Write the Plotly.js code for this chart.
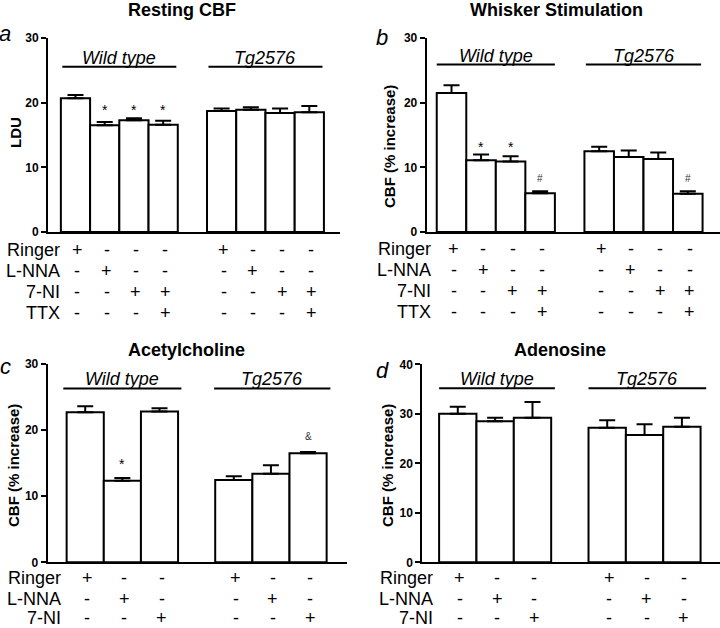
<!DOCTYPE html>
<html>
<head>
<meta charset="utf-8">
<script src="https://cdn.plot.ly/plotly-3.0.1.min.js"></script>
<style>html,body{margin:0;padding:0;background:#fff}#chart{width:720px;height:628px}</style>
</head>
<body>
<div id="chart"></div>
<script>
// ---- data ----
const posFour = [0, 1, 2, 3, 5, 6, 7, 8];
const posThree = [0, 1, 2, 4, 5, 6];

const restingMean = [20.7, 16.5, 17.3, 16.6, 18.7, 18.9, 18.4, 18.5];
const restingErr  = [0.5, 0.5, 0.3, 0.6, 0.4, 0.4, 0.7, 1.0];

const whiskerMean = [21.5, 11.1, 10.9, 6.0, 12.5, 11.6, 11.3, 5.9];
const whiskerErr  = [1.2, 0.9, 0.8, 0.3, 0.7, 1.0, 1.0, 0.4];

const achMean = [22.7, 12.35, 22.8, 12.45, 13.4, 16.5];
const achErr  = [0.9, 0.4, 0.5, 0.55, 1.3, 0.2];

const adoMean = [30.0, 28.5, 29.2, 27.2, 25.7, 27.4];
const adoErr  = [1.4, 0.7, 3.2, 1.5, 2.2, 1.8];

const rowsFour = ['Ringer', 'L-NNA', '7-NI', 'TTX'];
const tableFour = [
  ['+', '-', '-', '-', '+', '-', '-', '-'],
  ['-', '+', '-', '-', '-', '+', '-', '-'],
  ['-', '-', '+', '+', '-', '-', '+', '+'],
  ['-', '-', '-', '+', '-', '-', '-', '+']
];
const rowsThree = ['Ringer', 'L-NNA', '7-NI'];
const tableThree = [
  ['+', '-', '-', '+', '-', '-'],
  ['-', '+', '-', '-', '+', '-'],
  ['-', '-', '+', '-', '-', '+']
];
const groupNames = ['Wild type', 'Tg2576'];
const panelTitles = ['Resting CBF', 'Whisker Stimulation', 'Acetylcholine', 'Adenosine'];
const panelLetters = ['a', 'b', 'c', 'd'];
const yTitles = ['LDU', 'CBF (% increase)', 'CBF (% increase)', 'CBF (% increase)'];

// significance marks: [panel, x, y, text]
const marks = [
  [0, 1, 18.9, '*'], [0, 2, 18.9, '*'], [0, 3, 18.9, '*'],
  [1, 1, 13.2, '*'], [1, 2, 13.2, '*'], [1, 3, 8.3, '#'], [1, 8, 8.3, '#'],
  [2, 1, 14.8, '*'], [2, 6, 19.0, '&']
];

// ---- layout geometry (pixels) ----
const W = 720, H = 628;
const FONT = 'Liberation Sans, Arial, sans-serif';
const px = x => x / W;
const py = y => 1 - y / H;

const panels = [
  {x0: 48, x1: 340, yb: 232, yt: 38, xr: [-0.94, 9.05], yr: [0, 30], dt: 10,
   pos: posFour, mean: restingMean, err: restingErr, rows: rowsFour, table: tableFour,
   rowY: [250, 271, 292, 313], labelX: 62,
   groupX: [[-0.45, 3.45], [4.55, 8.45]], groupTextY: 26.85, groupLineY: 25.55,
   titleX: 182, titleY: 10, letterX: 5, letterY: 34, yTitleX: 15, yTitleY: 133},
  {x0: 426.7, x1: 720, yb: 232, yt: 38, xr: [-0.84, 9.09], yr: [0, 30], dt: 10,
   pos: posFour, mean: whiskerMean, err: whiskerErr, rows: rowsFour, table: tableFour,
   rowY: [249, 270, 291, 312], labelX: 433,
   groupX: [[-0.5, 3.5], [4.55, 8.45]], groupTextY: 27.25, groupLineY: 25.9,
   titleX: 556, titleY: 10, letterX: 382, letterY: 37, yTitleX: 389, yTitleY: 147},
  {x0: 47.7, x1: 346.7, yb: 562.3, yt: 364, xr: [-1.01, 7.04], yr: [0, 30], dt: 10,
   pos: posThree, mean: achMean, err: achErr, rows: rowsThree, table: tableThree,
   rowY: [578, 599, 617.5], labelX: 63,
   groupX: [[-0.59, 2.59], [3.47, 6.6]], groupTextY: 27.7, groupLineY: 26.3,
   titleX: 186, titleY: 350, letterX: 5, letterY: 366, yTitleX: 14, yTitleY: 466},
  {x0: 422.3, x1: 720, yb: 562.3, yt: 364.3, xr: [-0.95, 7.02], yr: [0, 40], dt: 10,
   pos: posThree, mean: adoMean, err: adoErr, rows: rowsThree, table: tableThree,
   rowY: [578, 599, 617.5], labelX: 435,
   groupX: [[-0.5, 2.6], [3.5, 6.65]], groupTextY: 37.0, groupLineY: 35.15,
   titleX: 560, titleY: 350, letterX: 382, letterY: 370, yTitleX: 388, yTitleY: 466}
];

const traces = [];
const annotations = [];
const shapes = [];
const layout = {
  width: W, height: H,
  margin: {l: 0, r: 0, t: 0, b: 0},
  paper_bgcolor: '#fff', plot_bgcolor: 'rgba(0,0,0,0)',
  showlegend: false, bargap: 0,
  font: {family: FONT, color: '#000'}
};

panels.forEach((p, i) => {
  const sfx = i === 0 ? '' : String(i + 1);
  const xa = 'x' + sfx, ya = 'y' + sfx;
  traces.push({
    type: 'bar', x: p.pos, y: p.mean, width: 1,
    xaxis: xa, yaxis: ya,
    marker: {color: '#fff', line: {color: '#000', width: 2}},
    error_y: {type: 'data', array: p.err, arrayminus: p.err.map(() => 0), symmetric: false,
              color: '#000', thickness: 2, width: 8},
    hoverinfo: 'skip'
  });
  layout['xaxis' + sfx] = {
    domain: [px(p.x0), px(p.x1)], range: p.xr, anchor: ya,
    showline: true, linecolor: '#000', linewidth: 2,
    showgrid: false, zeroline: false, showticklabels: false, ticks: '', fixedrange: true
  };
  const tv = [];
  for (let v = p.yr[0]; v <= p.yr[1] + 1e-9; v += p.dt) tv.push(v);
  layout['yaxis' + sfx] = {
    domain: [py(p.yb), py(p.yt)], range: p.yr, anchor: xa,
    showline: true, linecolor: '#000', linewidth: 2,
    showgrid: false, zeroline: false,
    ticks: 'outside', ticklen: 5, tickwidth: 2, tickcolor: '#000',
    tickvals: tv, ticktext: tv.map(String),
    tickfont: {family: FONT, size: 12, color: '#000', weight: 'bold'},
    ticklabelstandoff: 0, fixedrange: true
  };
  annotations.push({xref: 'paper', yref: 'paper', x: px(p.titleX), y: py(p.titleY),
    text: '<b>' + panelTitles[i] + '</b>', showarrow: false, xanchor: 'center', yanchor: 'middle',
    font: {family: FONT, size: 18, color: '#000'}});
  annotations.push({xref: 'paper', yref: 'paper', x: px(p.letterX), y: py(p.letterY),
    text: '<i>' + panelLetters[i] + '</i>', showarrow: false, xanchor: 'center', yanchor: 'middle',
    font: {family: FONT, size: 22, color: '#000'}});
  annotations.push({xref: 'paper', yref: 'paper', x: px(p.yTitleX), y: py(p.yTitleY),
    text: '<b>' + yTitles[i] + '</b>', showarrow: false, textangle: -90,
    xanchor: 'center', yanchor: 'middle',
    font: {family: FONT, size: 15, color: '#000'}});
  p.groupX.forEach((g, gi) => {
    annotations.push({xref: xa, yref: ya, x: (g[0] + g[1]) / 2, y: p.groupTextY,
      text: '<i>' + groupNames[gi] + '</i>', showarrow: false, xanchor: 'center', yanchor: 'middle',
      font: {family: FONT, size: 18, color: '#000'}});
    shapes.push({type: 'line', xref: xa, yref: ya, x0: g[0], x1: g[1],
      y0: p.groupLineY, y1: p.groupLineY, line: {color: '#000', width: 2}});
  });
  p.rows.forEach((r, ri) => {
    annotations.push({xref: 'paper', yref: 'paper', x: px(p.labelX), y: py(p.rowY[ri]),
      text: r, showarrow: false, xanchor: 'right', yanchor: 'middle',
      font: {family: FONT, size: 18, color: '#000'}});
    p.table[ri].forEach((s, si) => {
      annotations.push({xref: xa, yref: 'paper', x: p.pos[si], y: py(p.rowY[ri]),
        text: s, showarrow: false, xanchor: 'center', yanchor: 'middle', xshift: 2,
        font: {family: FONT, size: 18, color: '#000'}});
    });
  });
});

marks.forEach(m => {
  const sfx = m[0] === 0 ? '' : String(m[0] + 1);
  annotations.push({xref: 'x' + sfx, yref: 'y' + sfx, x: m[1], y: m[2], text: m[3],
    showarrow: false, xanchor: 'center', yanchor: 'middle',
    font: {family: FONT, size: m[3] === '*' ? 14 : 10, color: m[3] === '*' ? '#000' : '#333'}});
});

layout.annotations = annotations;
layout.shapes = shapes;

Plotly.newPlot('chart', traces, layout, {displayModeBar: false, staticPlot: true});
</script>
</body>
</html>
